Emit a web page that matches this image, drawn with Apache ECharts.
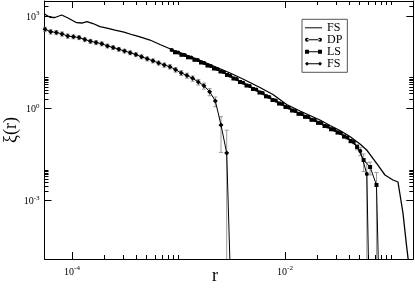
<!DOCTYPE html>
<html><head><meta charset="utf-8">
<script src="https://cdn.jsdelivr.net/npm/echarts@6/dist/echarts.min.js"></script>
<style>html,body{margin:0;padding:0;background:#fff}#c{width:415px;height:288px}</style>
</head><body><div id="c"></div>
<script>
// ---- data ----
const fsLineR  = [5.52e-5,6.21e-5,6.92e-5,8.00e-5,9.17e-5,1.107e-4,1.24e-4,1.383e-4,1.574e-4,1.832e-4,2.13e-4,2.535e-4,3.08e-4,3.74e-4,4.35e-4,5.40e-4,6.70e-4,8.63e-4,1.151e-3,1.698e-3,2.30e-3,3.05e-3,4.21e-3,5.82e-3,7.71e-3,1.037e-2,1.384e-2,1.718e-2,2.13e-2,2.65e-2,3.28e-2,4.07e-2,5.06e-2,5.85e-2,6.56e-2,7.31e-2,8.69e-2,1.033e-1,1.151e-1,1.282e-1,1.383e-1,1.445e-1];
const fsLineXi = [1153,901,888,1070,855,601,588,648,566,446,404,348,300,240,207,165,118,81.1,55.8,33.0,21.1,14.0,8.29,4.73,2.80,1.33,0.817,0.583,0.417,0.277,0.190,0.121,0.0693,0.0443,0.0262,0.0156,0.00683,0.00470,0.00405,3.99e-4,3.65e-5,1.02e-5];

const dpR   = [8.63e-4,9.93e-4,1.143e-3,1.316e-3,1.515e-3,1.743e-3,2.007e-3,2.310e-3,2.658e-3,3.060e-3,3.522e-3,4.054e-3,4.666e-3,5.370e-3,6.181e-3,7.115e-3,8.189e-3,9.426e-3,1.085e-2,1.249e-2,1.437e-2,1.654e-2,1.904e-2,2.192e-2,2.523e-2,2.904e-2,3.342e-2,3.847e-2,4.428e-2,5.097e-2,5.866e-2,6.75e-2];
const dpXi  = [78.1,64.3,53.8,44.3,37.0,29.6,23.6,18.9,15.1,11.5,8.93,6.82,5.30,4.05,3.14,2.33,1.79,1.38,1.06,0.817,0.653,0.522,0.417,0.333,0.256,0.203,0.158,0.113,0.0805,0.0411,0.00736,6e-14];
const dpErr = [6,5,4,3.4,2.8,2.2,1.8,1.4,1.1,0.85,0.66,0.5,0.4,0.3,0.24,0.18,0.14,0.11,0.085,0.066,0.053,0.043,0.035,0.029,0.023,0.019,0.016,0.012,0.01,0.012,0.01,0];

const lsR   = [9.27e-4,1.067e-3,1.228e-3,1.413e-3,1.627e-3,1.872e-3,2.155e-3,2.481e-3,2.855e-3,3.286e-3,3.783e-3,4.354e-3,5.011e-3,5.767e-3,6.638e-3,7.642e-3,8.795e-3,1.012e-2,1.165e-2,1.341e-2,1.543e-2,1.776e-2,2.045e-2,2.354e-2,2.710e-2,3.119e-2,3.589e-2,4.132e-2,4.756e-2,5.474e-2,6.300e-2,7.23e-2,8.32e-2];
const lsXi  = [65.8,54.6,45.3,37.6,30.7,24.5,19.6,15.7,12.1,9.29,7.14,5.50,4.24,3.26,2.45,1.86,1.43,1.10,0.849,0.662,0.530,0.424,0.338,0.266,0.209,0.164,0.121,0.0867,0.0555,0.0209,0.0124,0.00324,6e-12];
const lsErr = [5,4.2,3.5,2.9,2.4,1.9,1.5,1.2,0.93,0.72,0.55,0.43,0.33,0.26,0.2,0.15,0.12,0.09,0.07,0.055,0.045,0.036,0.03,0.025,0.02,0.017,0.014,0.012,0.011,0.012,0.0055,0.005,0];

const fsR   = [5.58e-5,6.31e-5,7.13e-5,8.06e-5,9.12e-5,1.031e-4,1.165e-4,1.318e-4,1.490e-4,1.684e-4,1.904e-4,2.153e-4,2.434e-4,2.752e-4,3.112e-4,3.518e-4,3.978e-4,4.497e-4,5.085e-4,5.749e-4,6.499e-4,7.348e-4,8.308e-4,9.393e-4,1.062e-3,1.201e-3,1.358e-3,1.535e-3,1.735e-3,1.962e-3,2.218e-3,2.508e-3,2.836e-3,3.2e-3];
const fsXi  = [367,307,290,260,222,211,198,171,150,137,125,106,93.5,82.4,72.5,63.8,55.4,47.3,40.4,34.8,29.8,25.5,22.4,17.9,14.1,11.6,9.4,7.2,5.4,3.46,1.73,0.287,0.0354,3e-8];
const fsErr = [60,50,45,40,35,30,28,25,22,20,18,15,13,11,10,9,8,7,6,5,4.5,4,3.5,3,2.5,2.2,1.8,1.5,1.2,0.9,0.6,0.25,0.16,0];

const xMajorTicks = [1e-4, 1e-2];
const xMinorTicks = [2e-4,3e-4,4e-4,5e-4,6e-4,7e-4,8e-4,9e-4,1e-3,2e-2,3e-2,4e-2,5e-2,6e-2,7e-2,8e-2,9e-2,1e-1];
const yMajorTicks = [1e-3, 1e0, 1e3];
const yMinorTicks = [2e-3,3e-3,4e-3,5e-3,6e-3,7e-3,8e-3,9e-3,1e-2,2,3,4,5,6,7,8,9,10,2e3,3e3];
const legendNames = ['FS_a','DP','LS','FS_b'];
const xTitle = 'r', yTitle = 'ξ(r)';

// ---- chart ----
const X_MIN = 5.52e-5, X_MAX = 0.1603, Y_MIN = 1.28e-5, Y_MAX = 3048;
const FONT = 'Liberation Serif';
const zip = (a,b) => a.map((v,i)=>[v,b[i]]);
const errData = (r,v,e) => r.map((x,i)=>[x, v[i]-e[i], v[i]+e[i]]).filter((d,i)=>e[i]>0);

function supLabel(v){
  const e = Math.round(Math.log10(v));
  return '{b|10}{s|' + e + '}';
}
const richLab = {
  b:{fontFamily:FONT,fontSize:10,color:'#000',verticalAlign:'bottom',lineHeight:12},
  s:{fontFamily:FONT,fontSize:7,color:'#000',verticalAlign:'top',lineHeight:12}
};
const axisBase = (type, extra) => Object.assign({
  type:'log', logBase:10, min: type==='x'?X_MIN:Y_MIN, max: type==='x'?X_MAX:Y_MAX,
  splitLine:{show:false}, minorTick:{show:false}, minorSplitLine:{show:false}
}, extra);

function majorAxis(type, pos, showLab, ticks){
  return axisBase(type, {
    position:pos,
    axisLine:{show:true,onZero:false,lineStyle:{color:'#000',width:1}},
    axisTick:{show:true,inside:true,length:7,customValues:ticks,lineStyle:{color:'#000',width:1}},
    axisLabel:{show:showLab,customValues:ticks,formatter:supLabel,rich:richLab,margin:type==='x'?6:5}
  });
}
function minorAxis(type, pos, ticks){
  return axisBase(type, {
    position:pos,
    axisLine:{show:false,onZero:false},
    axisTick:{show:true,inside:true,length:4,customValues:ticks,lineStyle:{color:'#000',width:1}},
    axisLabel:{show:false}
  });
}

const errSeries = (r,v,e) => ({
  type:'custom', xAxisIndex:0, yAxisIndex:0, silent:true, z:1,
  data: errData(r,v,e),
  renderItem:(params, api)=>{
    const cs = params.coordSys;
    const x = api.value(0);
    const lo = Math.max(api.value(1), 1e-30);
    const p1 = api.coord([x, api.value(2)]);
    const p0 = api.coord([x, lo]);
    const bottom = cs.y + cs.height;
    let y0 = isFinite(p0[1]) ? Math.min(p0[1], bottom) : bottom;
    const y1 = p1[1];
    const w = 2;
    const children = [
      {type:'line',shape:{x1:p1[0],y1:y1,x2:p1[0],y2:y0},style:{stroke:'#9a9a9a',lineWidth:1}},
      {type:'line',shape:{x1:p1[0]-w,y1:y1,x2:p1[0]+w,y2:y1},style:{stroke:'#9a9a9a',lineWidth:1}}
    ];
    if (y0 < bottom) children.push({type:'line',shape:{x1:p1[0]-w,y1:y0,x2:p1[0]+w,y2:y0},style:{stroke:'#9a9a9a',lineWidth:1}});
    return {type:'group',children};
  }
});

const chart = echarts.init(document.getElementById('c'), null, {renderer:'canvas'});
chart.setOption({
  animation:false,
  backgroundColor:'#fff',
  grid:{left:44.5, right:1.7, top:1, bottom:29, containLabel:false, outerBoundsMode:'none'},
  graphic:[
    {type:'text', x:215, y:276, silent:true,
     style:{text:xTitle, font:'18px "Liberation Serif"', fill:'#000', align:'center', verticalAlign:'middle'}}
  ],
  xAxis:[
    majorAxis('x','bottom',true,xMajorTicks),
    minorAxis('x','bottom',xMinorTicks),
    majorAxis('x','top',false,xMajorTicks),
    minorAxis('x','top',xMinorTicks)
  ],
  yAxis:[
    Object.assign(majorAxis('y','left',true,yMajorTicks),{
      name:yTitle, nameLocation:'middle', nameGap:24, nameMoveOverlap:false,
      nameTextStyle:{fontFamily:FONT,fontSize:18,color:'#000'}
    }),
    minorAxis('y','left',yMinorTicks),
    majorAxis('y','right',false,yMajorTicks),
    minorAxis('y','right',yMinorTicks)
  ],
  legend:{
    orient:'vertical', left:302, top:19.3,
    padding:[2.5,5,2.5,3], itemWidth:17, itemHeight:5, itemGap:0,
    borderColor:'#555', borderWidth:1, backgroundColor:'#fff',
    textStyle:{fontFamily:FONT,fontSize:12,color:'#000',lineHeight:10.5},
    formatter:n=>n.split('_')[0],
    data:[
      {name:legendNames[0], icon:'path://M0,4 L34,4 L34,6 L0,6 Z'},
      {name:legendNames[1], icon:'path://M0,5 A4,4 0 1,0 8,5 A4,4 0 1,0 0,5 Z M26,5 A4,4 0 1,0 34,5 A4,4 0 1,0 26,5 Z M4,4 L30,4 L30,6 L4,6 Z'},
      {name:legendNames[2], icon:'path://M0,1 L8,1 L8,9 L0,9 Z M26,1 L34,1 L34,9 L26,9 Z M8,4 L26,4 L26,6 L8,6 Z'},
      {name:legendNames[3], icon:'path://M0,5 L4,1 L8,5 L4,9 Z M26,5 L30,1 L34,5 L30,9 Z M6,4 L28,4 L28,6 L6,6 Z'}
    ]
  },
  series:[
    errSeries(fsR,fsXi,fsErr),
    errSeries(dpR,dpXi,dpErr),
    errSeries(lsR,lsXi,lsErr),
    {name:legendNames[0], type:'line', xAxisIndex:0, yAxisIndex:0, data:zip(fsLineR,fsLineXi),
     symbol:'none', color:'#000', lineStyle:{color:'#000',width:1.3}, clip:true, z:3},
    {name:legendNames[1], type:'line', xAxisIndex:0, yAxisIndex:0, data:zip(dpR,dpXi),
     symbol:'circle', symbolSize:4, color:'#000', itemStyle:{color:'#000'}, lineStyle:{color:'#000',width:1}, clip:true, z:3},
    {name:legendNames[2], type:'line', xAxisIndex:0, yAxisIndex:0, data:zip(lsR,lsXi),
     symbol:'rect', symbolSize:4, color:'#000', itemStyle:{color:'#000'}, lineStyle:{color:'#000',width:1}, clip:true, z:3},
    {name:legendNames[3], type:'line', xAxisIndex:0, yAxisIndex:0, data:zip(fsR,fsXi),
     symbol:'diamond', symbolSize:5, color:'#000', itemStyle:{color:'#000'}, lineStyle:{color:'#000',width:1}, clip:true, z:3}
  ]
});
</script></body></html>
